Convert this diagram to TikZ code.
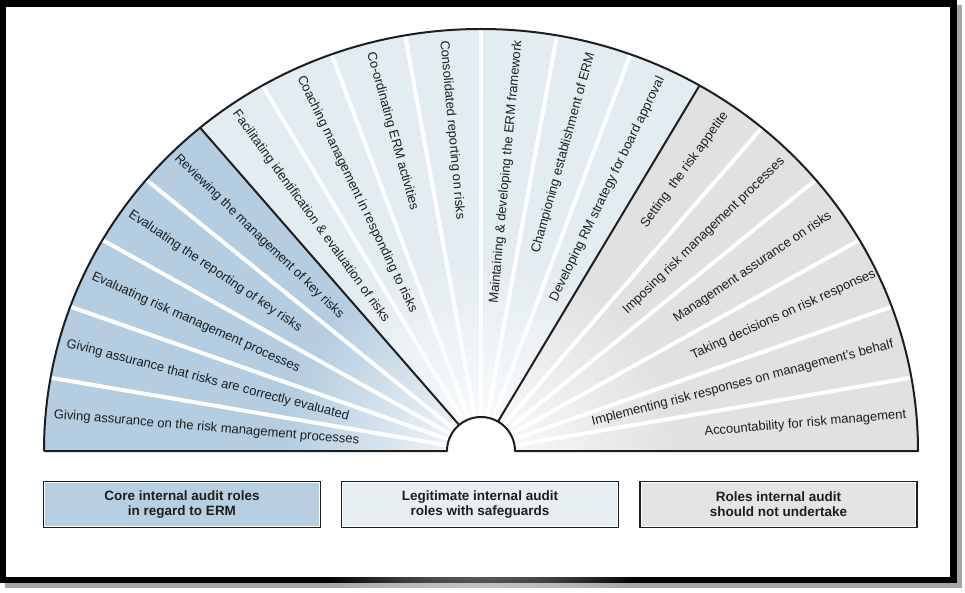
\documentclass[tikz,border=0pt]{standalone}
\usepackage{fontspec}
\setmainfont{Liberation Sans}
\usetikzlibrary{fadings,calc}
\definecolor{coreblue}{HTML}{B4CDE0}
\definecolor{legitblue}{HTML}{E3ECF1}
\definecolor{notgrey}{HTML}{E1E1E1}
\definecolor{boxblue}{HTML}{B7CFE1}
\definecolor{boxlegit}{HTML}{E7EFF3}
\definecolor{boxgrey}{HTML}{E4E4E4}
\definecolor{inkdark}{HTML}{1E1E1E}
\tikzfading[name=centrefade, inner color=transparent!0, outer color=transparent!100]
\tikzset{
  fanlab/.style={inner sep=0pt, font=\fontsize{13}{15}\selectfont, text=inkdark},
  sepline/.style={white, line width=4pt},
  edgeline/.style={inkdark, line width=2pt, line join=round},
  legendbox/.style={draw=inkdark, line width=2.5pt, minimum width=276pt, minimum height=45pt,
    align=center, inner sep=0pt, font=\bfseries\fontsize{13.5}{15}\selectfont, text=inkdark},
  innerline/.style={white, line width=1pt}
}
\newcommand{\fanlabel}[5]{%
  \pgfmathsetmacro\fanang{atan2(422*sin(#2),437*cos(#2))}%
  \pgfmathsetmacro\fanx{437*cos(#2)-#3*cos(\fanang)}%
  \pgfmathsetmacro\fany{422*sin(#2)-#3*sin(\fanang)}%
  \ifx L#4%
    \pgfmathsetmacro\fanrot{\fanang-180}%
    \node[fanlab, rotate=\fanrot, anchor=west] (#1) at (\fanx,\fany) {#5};%
  \else
    \node[fanlab, rotate=\fanang, anchor=east] (#1) at (\fanx,\fany) {#5};%
  \fi
}
\begin{document}
\begin{tikzpicture}[x=1pt,y=1pt]
\useasboundingbox (-481,-141) rectangle (484,451);
\fill[white] (-481,-141) rectangle (484,451);
% frame with shadow
\draw[black!35, line width=6pt] (-473,442.5) rectangle (477.5,-134);
\draw[black, line width=6.5pt] (-478,447.5) rectangle (472.5,-129);
\fill[white] (-474.75,444.25) rectangle (469.25,-125.75);
% fan sectors
\fill[coreblue] (0,0) -- (-437,0) arc[start angle=180, end angle=130, x radius=437pt, y radius=422pt] -- cycle;
\fill[legitblue] (0,0) -- ({437*cos(130)},{422*sin(130)}) arc[start angle=130, end angle=60, x radius=437pt, y radius=422pt] -- cycle;
\fill[notgrey] (0,0) -- ({437*cos(60)},{422*sin(60)}) arc[start angle=60, end angle=0, x radius=437pt, y radius=422pt] -- cycle;
\foreach \t in {170,160,150,140,120,110,100,90,80,70,50,40,30,20,10}
  \draw[sepline] (0,0) -- ({437*cos(\t)},{422*sin(\t)});
\fill[white, path fading=centrefade, fill opacity=0.9] (0,0) circle[radius=200pt];
\fill[white] (-437,-10) rectangle (437,0);
\fill[white] (-34,0) arc[start angle=180, end angle=0, radius=34pt] -- cycle;
% outlines
\draw[edgeline] ({34*cos(130)},{34*sin(130)}) -- ({437*cos(130)},{422*sin(130)});
\draw[edgeline] ({34*cos(60)},{34*sin(60)}) -- ({437*cos(60)},{422*sin(60)});
\draw[edgeline] (-437,0) -- (-34,0) arc[start angle=180, end angle=0, radius=34pt] -- (437,0)
  arc[start angle=0, end angle=180, x radius=437pt, y radius=422pt];
% labels
\fanlabel{c1}{175}{8}{L}{Giving assurance on the risk management processes}
\fanlabel{c2}{165}{8}{L}{Giving assurance that risks are correctly evaluated}
\fanlabel{c3}{155}{8}{L}{Evaluating risk management processes}
\fanlabel{c4}{145}{8}{L}{Evaluating the reporting of key risks}
\fanlabel{c5}{135}{6}{L}{Reviewing the management of key risks}
\fanlabel{m1}{125}{8}{L}{Facilitating identification \& evaluation of risks}
\fanlabel{m2}{115}{9}{L}{Coaching management in responding to risks}
\fanlabel{m3}{105}{9}{L}{Co-ordinating ERM activities}
\fanlabel{m4}{95}{10}{L}{Consolidated reporting on risks}
\fanlabel{m5}{85}{10}{R}{Maintaining \& developing the ERM framework}
\fanlabel{m6}{75}{10}{R}{Championing establishment of ERM}
\fanlabel{m7}{65}{10}{R}{Developing RM strategy for board approval}
\fanlabel{n1}{55}{10}{R}{Setting\hspace{0.55em}the risk appetite}
\fanlabel{n2}{45}{10}{R}{Imposing risk management processes}
\fanlabel{n3}{35}{10}{R}{Management assurance on risks}
\fanlabel{n4}{25}{2}{R}{Taking decisions on risk responses}
\fanlabel{n5}{15}{10}{R}{Implementing risk responses on management's behalf}
\fanlabel{n6}{5}{10}{R}{Accountability for risk management}
% legend
\node[legendbox, fill=boxblue] (b1) at (-299,-53.5) {Core internal audit roles\\in regard to ERM};
\node[legendbox, fill=boxlegit] (b2) at (-1,-53.5) {Legitimate internal audit\\roles with safeguards};
\node[legendbox, fill=boxgrey] (b3) at (297.5,-53.5) {Roles internal audit\\should not undertake};
\foreach \b in {b1,b2,b3}
  \draw[innerline] ([shift={(2.2,-2.2)}]\b.north west) rectangle ([shift={(-2.2,2.2)}]\b.south east);
\end{tikzpicture}
\end{document}
